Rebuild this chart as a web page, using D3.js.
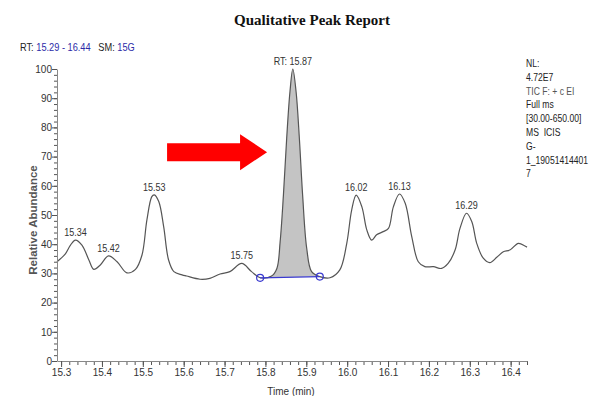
<!DOCTYPE html>
<html>
<head>
<meta charset="utf-8">
<script src="https://cdn.jsdelivr.net/npm/d3@7"></script>
<style>
  body { margin: 0; background: #fff; }
  svg { display: block; }
</style>
</head>
<body>
<div id="chart"></div>
<script>
// Retention time (min) and relative abundance (%)
const rt = [
  15.290, 15.310, 15.323, 15.335, 15.351, 15.368, 15.380, 15.396, 15.416, 15.437,
  15.461, 15.482, 15.498, 15.510, 15.522, 15.528, 15.539, 15.551, 15.563, 15.576,
  15.596, 15.607, 15.640, 15.664, 15.689, 15.713, 15.742, 15.766, 15.787, 15.815,
  15.828, 15.836, 15.844, 15.852, 15.860, 15.867, 15.875, 15.883, 15.891, 15.901,
  15.913, 15.933, 15.958, 15.982, 15.999, 16.011, 16.022, 16.036, 16.048, 16.060,
  16.072, 16.088, 16.101, 16.113, 16.128, 16.142, 16.158, 16.174, 16.190, 16.211,
  16.231, 16.247, 16.264, 16.276, 16.292, 16.305, 16.317, 16.333, 16.349, 16.366,
  16.382, 16.398, 16.419, 16.435, 16.440
]
const abundance = [
  34.0, 36.6, 39.7, 41.4, 39.7, 34.6, 31.4, 32.9, 36.0, 34.0,
  30.2, 31.4, 36.3, 48.3, 56.3, 56.9, 54.6, 46.0, 34.6, 30.6,
  29.5, 29.1, 28.0, 28.3, 29.8, 30.6, 33.4, 30.6, 28.5, 29.1,
  31.7, 40.9, 56.8, 76.3, 92.2, 100, 92.2, 76.3, 56.8, 38.6,
  30.6, 28.9, 28.5, 31.2, 40.3, 51.7, 56.8, 52.8, 44.9, 41.4,
  43.2, 44.3, 45.4, 52.8, 57.2, 54.0, 42.6, 34.0, 32.3, 32.3,
  31.7, 33.4, 38.0, 45.4, 50.6, 47.7, 40.3, 35.2, 33.7, 35.5,
  37.4, 38.0, 40.3, 39.4, 39.0
]

// Labelled peaks
const peakRT = [15.34, 15.42, 15.53, 15.75, 15.87, 16.02, 16.13, 16.29]
const peakText = ['15.34', '15.42', '15.53', '15.75', 'RT: 15.87', '16.02', '16.13', '16.29']

// Integrated peak (start / end of the blue baseline)
const integStart = 15.787
const integEnd = 15.933

// Axes
const xRange = [15.29, 16.44]
const xMajor = [15.3, 15.4, 15.5, 15.6, 15.7, 15.8, 15.9, 16.0, 16.1, 16.2, 16.3, 16.4]
const yMajor = [0, 10, 20, 30, 40, 50, 60, 70, 80, 90, 100]

// Side info block
const infoLines = ['NL:', '4.72E7', 'TIC F: + c EI', 'Full ms', '[30.00-650.00]', 'MS  ICIS', 'G-', '1_19051414401', '7']

const W = 594, H = 396
const font = "'Liberation Sans Narrow', 'Arial Narrow', 'Liberation Sans', Arial, sans-serif"

const svg = d3.select('#chart').append('svg')
  .attr('width', W)
  .attr('height', H)
  .style('font-family', font)

const x = d3.scaleLinear().domain(xRange).range([57, 527])
const y = d3.scaleLinear().domain([0, 100]).range([361, 69])

const pts = rt.map((t, i) => ({ t, v: abundance[i] }))

// Title
svg.append('text')
  .attr('x', 312).attr('y', 25)
  .attr('text-anchor', 'middle')
  .attr('font-family', "'Liberation Serif', 'Times New Roman', serif")
  .attr('font-weight', 'bold')
  .attr('font-size', 15)
  .attr('fill', '#111')
  .text('Qualitative Peak Report')

// RT / SM header (squeezed a bit, the original uses a narrow face)
const hdr = svg.append('text')
  .attr('transform', 'translate(20,51) scale(0.88,1)')
  .attr('font-size', 10.5)
  .style('white-space', 'pre')
hdr.append('tspan').attr('fill', '#222').text('RT: ')
hdr.append('tspan').attr('fill', '#2b2ba8').text('15.29 - 16.44')
hdr.append('tspan').attr('fill', '#222').text('   SM: ')
hdr.append('tspan').attr('fill', '#2b2ba8').text('15G')

// Shaded integrated peak
const inPeak = pts.filter(d => d.t >= integStart && d.t <= integEnd)
const p0 = inPeak[0], p1 = inPeak[inPeak.length - 1]
const base = t => p0.v + (p1.v - p0.v) * (t - p0.t) / (p1.t - p0.t)

svg.append('path')
  .datum(inPeak)
  .attr('d', d3.area()
    .x(d => x(d.t))
    .y0(d => y(base(d.t)))
    .y1(d => y(d.v))
    .curve(d3.curveCatmullRom))
  .attr('fill', '#c4c4c4')

// Trace
svg.append('path')
  .datum(pts)
  .attr('d', d3.line()
    .x(d => x(d.t))
    .y(d => y(d.v))
    .curve(d3.curveCatmullRom))
  .attr('fill', 'none')
  .attr('stroke', '#555')
  .attr('stroke-width', 1.2)

// Blue baseline + markers
svg.append('line')
  .attr('x1', x(p0.t)).attr('y1', y(p0.v))
  .attr('x2', x(p1.t)).attr('y2', y(p1.v))
  .attr('stroke', '#3a3ad0')
  .attr('stroke-width', 1.3)

svg.selectAll('circle.marker')
  .data([p0, p1])
  .join('circle')
  .attr('class', 'marker')
  .attr('cx', d => x(d.t))
  .attr('cy', d => y(d.v))
  .attr('r', 3.5)
  .attr('fill', 'none')
  .attr('stroke', '#3a3ad0')
  .attr('stroke-width', 1.2)

// Peak labels at the apex nearest each RT
const apex = peakRT.map(r => {
  const near = pts.filter(d => Math.abs(d.t - r) <= 0.015)
  return near.reduce((a, b) => (b.v > a.v ? b : a))
})

svg.selectAll('text.peak')
  .data(apex)
  .join('text')
  .attr('class', 'peak')
  .attr('transform', d => `translate(${x(d.t)},${y(d.v) - 4}) scale(0.9,1)`)
  .attr('text-anchor', 'middle')
  .attr('font-size', 10)
  .attr('fill', '#333')
  .text((d, i) => peakText[i])

// X axis
const xMinor = d3.range(0, 58).map(i => +(15.30 + i * 0.02).toFixed(2)).filter(v => v <= 16.44)

svg.append('g')
  .attr('transform', 'translate(0,361)')
  .call(d3.axisBottom(x).tickValues(xMinor).tickSize(4).tickFormat(''))
  .call(g => g.select('.domain').remove())
  .call(g => g.selectAll('line').attr('stroke', '#555'))

svg.append('g')
  .attr('transform', 'translate(0,361)')
  .call(d3.axisBottom(x).tickValues(xMajor).tickSize(6).tickSizeOuter(0).tickFormat(d3.format('.1f')))
  .call(g => g.select('.domain').attr('stroke', '#888'))
  .call(g => g.selectAll('line').attr('stroke', '#555'))
  .call(g => g.selectAll('text')
    .attr('font-family', font)
    .attr('font-size', 10)
    .attr('fill', '#333')
    .attr('dy', '0.6em'))

// Y axis
const yMinor = d3.range(0, 101, 2)

svg.append('g')
  .attr('transform', 'translate(57,0)')
  .call(d3.axisLeft(y).tickValues(yMinor).tickSize(3).tickFormat(''))
  .call(g => g.select('.domain').remove())
  .call(g => g.selectAll('line').attr('stroke', '#555'))

svg.append('g')
  .attr('transform', 'translate(57,0)')
  .call(d3.axisLeft(y).tickValues(yMajor).tickSize(5).tickSizeOuter(0))
  .call(g => g.select('.domain').attr('stroke', '#888'))
  .call(g => g.selectAll('line').attr('stroke', '#555'))
  .call(g => g.selectAll('text')
    .attr('font-family', font)
    .attr('font-size', 10)
    .attr('fill', '#333')
    .attr('x', -5))

// Axis titles
svg.append('text')
  .attr('transform', 'translate(37,220) rotate(-90)')
  .attr('text-anchor', 'middle')
  .attr('font-size', 11.5)
  .attr('font-weight', 'bold')
  .attr('fill', '#555')
  .text('Relative Abundance')

svg.append('text')
  .attr('x', 291).attr('y', 395)
  .attr('text-anchor', 'middle')
  .attr('font-size', 10)
  .attr('fill', '#333')
  .text('Time (min)')

// Info block on the right, squeezed horizontally
svg.append('g')
  .attr('transform', 'translate(526,0) scale(0.86,1)')
  .selectAll('text')
  .data(infoLines)
  .join('text')
  .attr('x', 0)
  .attr('y', (d, i) => 67 + i * 13.8)
  .attr('font-size', 10)
  .attr('fill', (d, i) => (i === 2 ? '#555' : '#222'))
  .style('white-space', 'pre')
  .text(d => d)

// Red arrow pointing at the main peak (anchored to data coordinates)
const tipX = x(15.804), tipY = y(71.5)
const arrow = [
  [tipX, tipY],
  [tipX - 27, tipY - 18],
  [tipX - 27, tipY - 9],
  [tipX - 100, tipY - 9],
  [tipX - 100, tipY + 9],
  [tipX - 27, tipY + 9],
  [tipX - 27, tipY + 18]
]
svg.append('polygon')
  .attr('points', arrow.map(p => p.join(',')).join(' '))
  .attr('fill', '#ff0000')
</script>
</body>
</html>
